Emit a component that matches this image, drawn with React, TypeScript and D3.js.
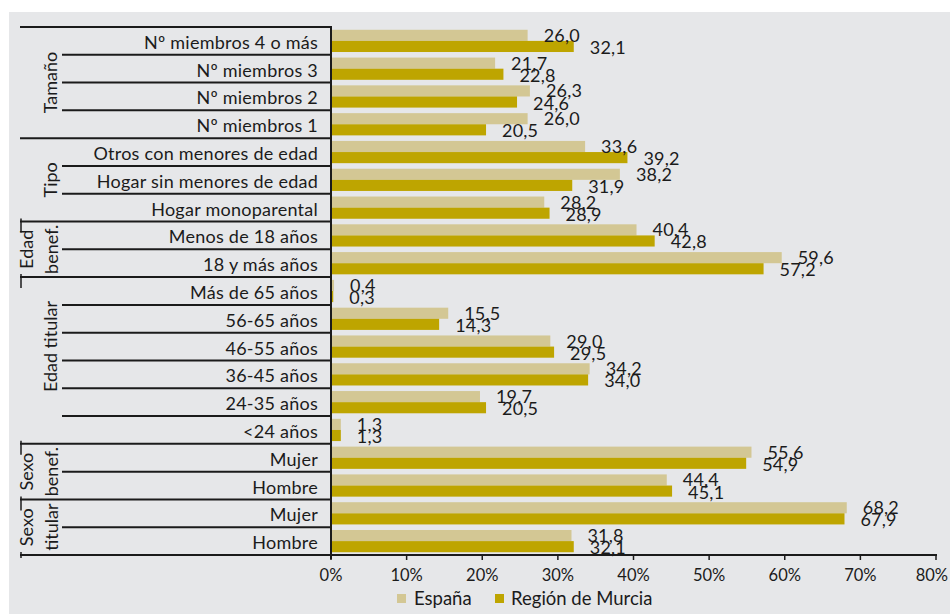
import React from "react";
import * as d3 from "d3";

const categories = [
  "Nº miembros 4 o más",
  "Nº miembros 3",
  "Nº miembros 2",
  "Nº miembros 1",
  "Otros con menores de edad",
  "Hogar sin menores de edad",
  "Hogar monoparental",
  "Menos de 18 años",
  "18 y más años",
  "Más de 65 años",
  "56-65 años",
  "46-55 años",
  "36-45 años",
  "24-35 años",
  "<24 años",
  "Mujer",
  "Hombre",
  "Mujer",
  "Hombre",
];

const espana = [26.0, 21.7, 26.3, 26.0, 33.6, 38.2, 28.2, 40.4, 59.6, 0.4, 15.5, 29.0, 34.2, 19.7, 1.3, 55.6, 44.4, 68.2, 31.8];
const murcia = [32.1, 22.8, 24.6, 20.5, 39.2, 31.9, 28.9, 42.8, 57.2, 0.3, 14.3, 29.5, 34.0, 20.5, 1.3, 54.9, 45.1, 67.9, 32.1];

const groupNames = ["Tamaño", "Tipo", "Edad benef.", "Edad titular", "Sexo benef.", "Sexo titular"];
const groupLines = [["Tamaño"], ["Tipo"], ["Edad", "benef."], ["Edad titular"], ["Sexo", "benef."], ["Sexo", "titular"]];
const groupSizes = [4, 3, 2, 6, 2, 2];

const seriesNames = ["España", "Región de Murcia"];
const tickValues = [0, 10, 20, 30, 40, 50, 60, 70, 80];

const COLORS = ["#d3c794", "#bea500"];
const BG = "#e6e7e9";
const INK = "#1b1b1b";
const FONT = "Lato, 'Open Sans', sans-serif";

export default function App() {
  const W = 950;
  const H = 614;
  const left = 331;
  const right = 936;
  const top = 27;
  const bottom = 555;
  const n = categories.length;

  const x = d3.scaleLinear().domain([0, 80]).range([left, right]);
  const y = d3.scaleBand<number>().domain(d3.range(n)).range([top, bottom]).padding(0);
  const step = y.step();
  const inner = d3.scaleBand<string>().domain(seriesNames).range([0, y.bandwidth()]).paddingInner(0).paddingOuter(0.25);
  const series = [espana, murcia];

  const fmt = (v: number) => v.toFixed(1).replace(".", ",");

  const starts: number[] = [];
  let acc = 0;
  groupSizes.forEach((s) => {
    starts.push(acc);
    acc += s;
  });
  const groupBoundary = new Set<number>([...starts, n]);

  const lines = d3.range(n + 1).map((b) => ({
    y: top + b * step,
    long: groupBoundary.has(b),
  }));

  const labelRowShift: Record<string, number> = { "Edad titular": -0.5 };

  return (
    <svg
      width={W}
      height={H}
      style={{ position: "absolute", left: 0, top: 0, fontFamily: FONT }}
    >
      <rect x={9} y={12} width={W - 9} height={H - 12} fill={BG} />

      {series.map((vals, si) =>
        vals.map((v, i) => (
          <rect
            key={`b-${si}-${i}`}
            x={x(0)}
            y={(y(i) as number) + (inner(seriesNames[si]) as number)}
            width={x(v) - x(0)}
            height={inner.bandwidth()}
            fill={COLORS[si]}
          />
        ))
      )}

      {series.map((vals, si) =>
        vals.map((v, i) => (
          <text
            key={`v-${si}-${i}`}
            x={x(v) + 16}
            y={(y(i) as number) + (inner(seriesNames[si]) as number) + inner.bandwidth() / 2 + (si === 0 ? -0.5 : 0.5)}
            dominantBaseline="central"
            fontSize={18}
            letterSpacing={0.2}
            fill={INK}
          >
            {fmt(v)}
          </text>
        ))
      )}

      {lines.map((l, i) => (
        <line
          key={`l-${i}`}
          x1={l.long ? 20 : 62}
          x2={left}
          y1={l.y}
          y2={l.y}
          stroke={INK}
          strokeWidth={2}
        />
      ))}

      {starts.slice(2).concat([n]).map((b, i) => {
        const yy = top + b * step;
        return (
          <line
            key={`ot-${i}`}
            x1={21}
            x2={21}
            y1={yy - 3}
            y2={Math.min(yy + 11, bottom + 3)}
            stroke={INK}
            strokeWidth={1.5}
          />
        );
      })}

      {categories.map((c, i) => (
        <text
          key={`c-${i}`}
          x={318}
          y={(y(i) as number) + step / 2 + 1}
          textAnchor="end"
          dominantBaseline="central"
          fontSize={18}
          letterSpacing={0.25}
          fill={INK}
        >
          {c}
        </text>
      ))}

      {groupNames.map((g, gi) => {
        const s = starts[gi];
        const cnt = groupSizes[gi] + (labelRowShift[g] ? 2 * labelRowShift[g] : 0);
        const yc = top + (s + cnt / 2) * step;
        const ls = groupLines[gi];
        return ls.map((t, li) => {
          const xc = ls.length === 1 ? 50 : li === 0 ? 26 : 51;
          return (
            <text
              key={`g-${gi}-${li}`}
              transform={`translate(${xc},${yc}) rotate(-90)`}
              textAnchor="middle"
              dominantBaseline="central"
              fontSize={18}
              fill={INK}
            >
              {t}
            </text>
          );
        });
      })}

      <line x1={left} x2={left} y1={top - 1} y2={bottom + 4} stroke={INK} strokeWidth={2} />
      <line x1={20} x2={right + 1} y1={bottom} y2={bottom} stroke={INK} strokeWidth={2} />
      {tickValues.map((t, ti) => {
        const last = ti === tickValues.length - 1;
        return (
          <g key={`t-${t}`}>
            <line x1={x(t)} x2={x(t)} y1={bottom} y2={bottom + 5} stroke={INK} strokeWidth={1.5} />
            <text
              x={last ? W - 2 : x(t)}
              y={575}
              textAnchor={last ? "end" : "middle"}
              dominantBaseline="central"
              fontSize={16.5}
              fill={INK}
            >
              {`${t}%`}
            </text>
          </g>
        );
      })}

      {(() => {
        const items = [
          { name: seriesNames[0], sx: 397, tx: 414 },
          { name: seriesNames[1], sx: 495, tx: 511 },
        ];
        return items.map((it, i) => (
          <g key={`lg-${i}`}>
            <rect x={it.sx} y={594} width={9} height={9} fill={COLORS[i]} />
            <text x={it.tx} y={598} dominantBaseline="central" fontSize={18.5} fill={INK}>
              {it.name}
            </text>
          </g>
        ));
      })()}
    </svg>
  );
}
